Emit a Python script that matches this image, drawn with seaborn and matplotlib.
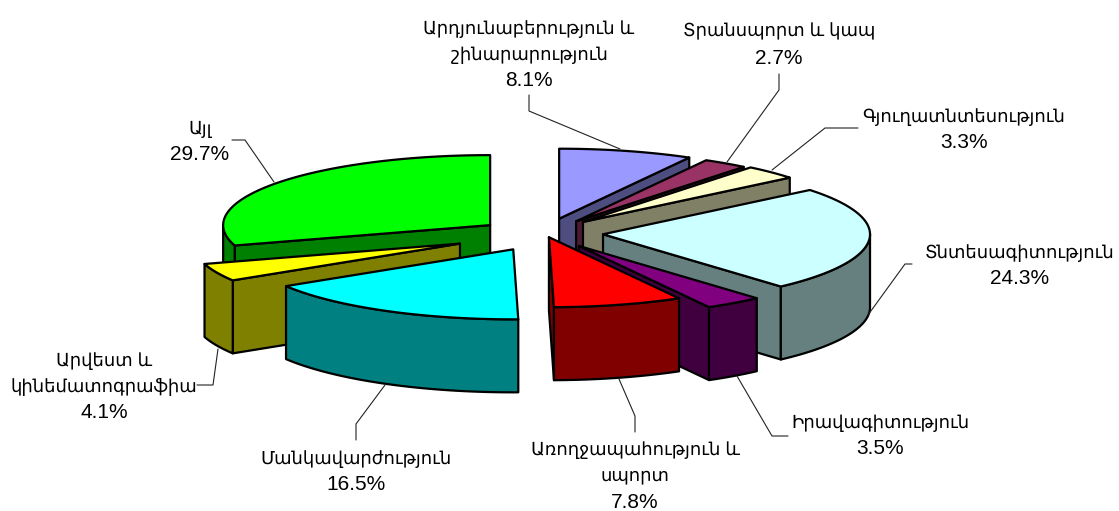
import numpy as np
import matplotlib
matplotlib.use('Agg')
import matplotlib.pyplot as plt
import seaborn as sns

# data, clockwise from 12 o'clock
categories = ['Արդյունաբերություն և\nշինարարություն', 'Տրանսպորտ և կապ', 'Գյուղատնտեսություն',
              'Տնտեսագիտություն', 'Իրավագիտություն', 'Առողջապահություն և\nսպորտ',
              'Մանկավարժություն', 'Արվեստ և\nկինեմատոգրաֆիա', 'Այլ']
shares = [8.1, 2.7, 3.3, 24.3, 3.5, 7.8, 16.5, 4.1, 29.7]
explode = [0.27, 0.235, 0.223, 0.233, 0.245, 0.114, 0.217, 0.333, 0.237]
nudge_y = [2, 0, -2, -2, -3, -5.5, 1, -1, 0]

top_colors = ['#9999FF', '#993366', '#FFFFCC', '#CCFFFF', '#800080', '#FF0000', '#00FFFF', '#FFFF00', '#00FF00']
side_colors = ['#4D4D80', '#4D1A33', '#808066', '#668080', '#400040', '#800000', '#008080', '#808000', '#008000']

# back to front
draw_order = [8, 7, 0, 1, 2, 3, 4, 5, 6]

# label anchor (centre x, y of first line) and leader line, figure pixels
label_xy = [(529, 29), (779, 32), (964, 117), (1020, 253), (880, 423), (635, 450), (356, 459), (104, 361), (200, 129)]
leaders = [
    [(529, 95), (529, 111), (620, 149)],
    [(779, 74), (779, 90), (727, 162)],
    [(858, 128), (825, 128), (772, 170)],
    [(912, 264), (905, 264), (868, 315)],
    [(788, 436), (772, 436), (737, 376)],
    [(635, 432), (635, 416), (619, 379)],
    [(356, 440), (356, 424), (385, 385)],
    [(197, 385), (213, 385), (218, 349)],
    [(232, 140), (245, 140), (274, 182)],
]

cx, cy = 541, 235
rx, ry = 267, 70
depth = 73
line_h = 26

sns.set_theme(style='white')
fonts = ['Liberation Sans', 'DejaVu Sans']
plt.rcParams['font.family'] = fonts

fig = plt.figure(figsize=(11.19, 5.11), dpi=100)
ax = fig.add_axes([0, 0, 1, 1])
ax.set_xlim(0, 1119)
ax.set_ylim(511, 0)
ax.axis('off')

edges = np.concatenate([[0], np.cumsum(shares)]) * 360 / sum(shares)


def rim(x0, y0, a1, a2):
    t = np.radians(np.linspace(a1, a2, max(int(a2 - a1), 2) * 2))
    return x0 + rx * np.sin(t), y0 - ry * np.cos(t)


def face(xs, ys, color, z):
    ax.fill(xs, ys, facecolor=color, edgecolor='black', lw=1.6, joinstyle='round', zorder=z)


for z, i in enumerate(draw_order):
    a1, a2 = edges[i], edges[i + 1]
    mid = np.radians((a1 + a2) / 2)
    x0 = cx + explode[i] * rx * np.sin(mid)
    y0 = cy - explode[i] * ry * np.cos(mid) + nudge_y[i]
    xr, yr = rim(x0, y0, a1, a2)
    zz = z * 10

    # cut faces that look toward the viewer
    if np.sin(np.radians(a1)) < 0:
        face([x0, xr[0], xr[0], x0], [y0, yr[0], yr[0] + depth, y0 + depth], side_colors[i], zz)
    if np.sin(np.radians(a2)) > 0:
        face([x0, xr[-1], xr[-1], x0], [y0, yr[-1], yr[-1] + depth, y0 + depth], side_colors[i], zz + 1)

    # outer wall, front half only
    lo, hi = max(a1, 90), min(a2, 270)
    if hi > lo:
        xw, yw = rim(x0, y0, lo, hi)
        face(np.r_[xw, xw[::-1]], np.r_[yw, yw[::-1] + depth], side_colors[i], zz + 2)

    face(np.r_[x0, xr], np.r_[y0, yr], top_colors[i], zz + 3)

for pts in leaders:
    xs, ys = zip(*pts)
    ax.plot(xs, ys, color='#222222', lw=0.8, zorder=200)

for name, val, (lx, ly) in zip(categories, shares, label_xy):
    lines = name.split('\n')
    for k, txt in enumerate(lines):
        ax.text(lx, ly + k * line_h, txt, ha='center', va='center', fontsize=12.9, color='black', family=fonts)
    ax.text(lx, ly + len(lines) * line_h, f'{val:.1f}%', ha='center', va='center', fontsize=15, color='black', family=fonts)

fig.savefig('out.png', dpi=100)
